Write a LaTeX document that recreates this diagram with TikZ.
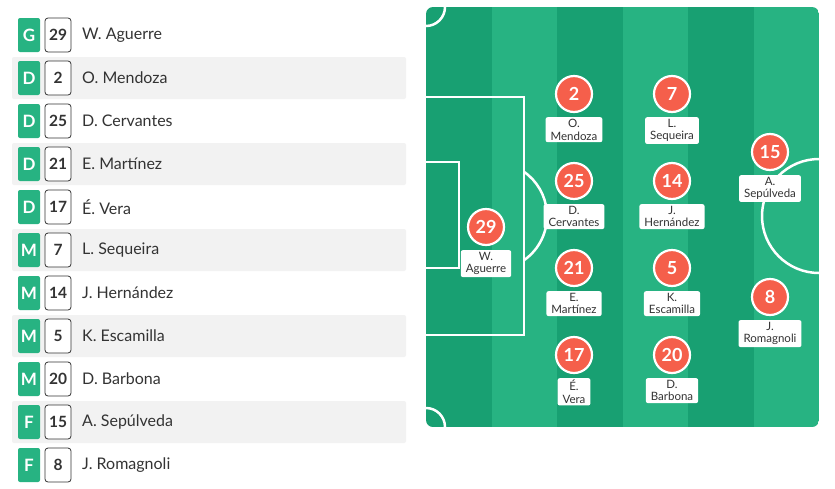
\documentclass[tikz,border=0pt]{standalone}
\usepackage{fontspec}
\setmainfont{Lato}
\definecolor{pitchlight}{HTML}{27B382}
\definecolor{pitchdark}{HTML}{18A072}
\definecolor{badgegreen}{HTML}{27B382}
\definecolor{marker}{HTML}{F55F4B}
\definecolor{rowgray}{HTML}{F2F2F2}
\definecolor{txt}{HTML}{333333}
\tikzset{
  posbadge/.style={fill=badgegreen, rounded corners=2pt, minimum width=22pt, minimum height=34pt, inner sep=0pt, text=white, font=\bfseries\fontsize{17}{17}\selectfont},
  numbox/.style={draw=txt, fill=white, line width=0.8pt, rounded corners=3pt, minimum width=26pt, minimum height=34pt, inner sep=0pt, text=txt, font=\bfseries\fontsize{15.5}{15.5}\selectfont},
  pname/.style={anchor=west, inner sep=0pt, text=txt, font=\fontsize{16}{16}\selectfont},
  rowband/.style={fill=rowgray, rounded corners=2pt},
  pitchline/.style={draw=white, line width=2.5pt},
  pl/.style={circle, fill=marker, draw=white, line width=2.2pt, minimum size=36pt, inner sep=0pt, text=white, font=\bfseries\fontsize{18}{18}\selectfont},
  plname/.style={fill=white, rounded corners=2pt, inner xsep=5pt, inner ysep=2pt, align=center, anchor=north, text=txt, font=\fontsize{11.5}{12.5}\selectfont}
}
\begin{document}
\begin{tikzpicture}[x=1pt,y=-1pt]
\useasboundingbox (0,0) rectangle (835,488);
\fill[white] (0,0) rectangle (835,488);
% list
\foreach \p/\n/\nm [count=\i from 0] in {G/29/W. Aguerre, D/2/O. Mendoza, D/25/D. Cervantes, D/21/E. Martínez, D/17/É. Vera, M/7/L. Sequeira, M/14/J. Hernández, M/5/K. Escamilla, M/20/D. Barbona, F/15/A. Sepúlveda, F/8/J. Romagnoli}{
  \pgfmathsetmacro\yy{35+43*\i}
  \pgfmathtruncatemacro\odd{mod(\i,2)}
  \ifnum\odd=1 \fill[rowband] (12,\yy-21) rectangle (406,\yy+21); \fi
  \node[posbadge] (pos\i) at (29,\yy) {\p};
  \node[numbox] (num\i) at (58,\yy) {\n};
  \node[pname] (name\i) at (82,\yy) {\nm};
}
% pitch
\begin{scope}
\clip[rounded corners=7pt] (426,7) rectangle (819,427);
\foreach \k in {0,...,5}{
  \pgfmathtruncatemacro\odd{mod(\k,2)}
  \ifnum\odd=0 \fill[pitchdark] (426+\k*65.5,7) rectangle (426+\k*65.5+65.5,427);
  \else \fill[pitchlight] (426+\k*65.5,7) rectangle (426+\k*65.5+65.5,427); \fi
}
\draw[pitchline] (426,97) -- (524,97) -- (524,335) -- (426,335);
\draw[pitchline] (426,162) -- (459,162) -- (459,268) -- (426,268);
\draw[pitchline] ([shift={(55:54)}]493,216) arc (55:-55:54);
\draw[pitchline] (819,216) circle (57);
\draw[pitchline] (426,7) circle (19);
\draw[pitchline] (426,427) circle (19);
\end{scope}
% players
\foreach \n/\x/\y/\nm in {29/486/227/{W.\\Aguerre}, 2/574/94/{O.\\Mendoza}, 25/574/181/{D.\\Cervantes}, 21/574/268/{E.\\Martínez}, 17/574/355/{É.\\Vera}, 7/672/94/{L.\\Sequeira}, 14/672/181/{J.\\Hernández}, 5/672/268/{K.\\Escamilla}, 20/672/355/{D.\\Barbona}, 15/770/152/{A.\\Sepúlveda}, 8/770/297/{J.\\Romagnoli}}{
  \node[pl] (p\n) at (\x,\y) {\n};
  \node[plname] (l\n) at (\x,\y+23) {\nm};
}
\end{tikzpicture}
\end{document}
